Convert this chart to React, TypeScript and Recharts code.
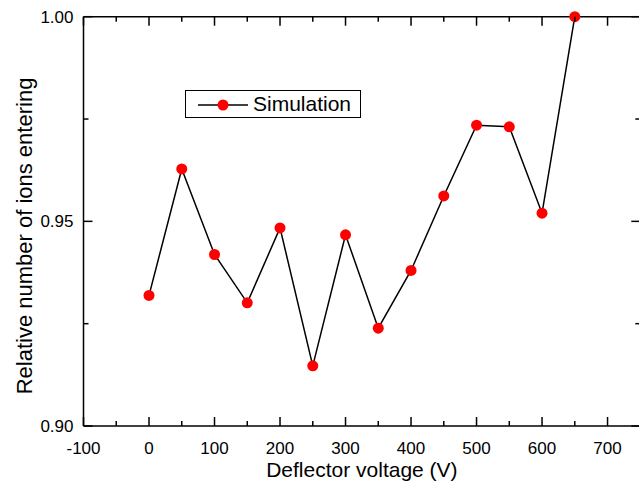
import React from "react";
import { LineChart, Line, XAxis, YAxis, Legend } from "recharts";

const voltages = [0, 50, 100, 150, 200, 250, 300, 350, 400, 450, 500, 550, 600, 650];
const ratios = [0.9319, 0.9628, 0.9419, 0.9301, 0.9484, 0.9147, 0.9467, 0.9239, 0.938, 0.9562, 0.9735, 0.9731, 0.952, 1.0];
const xTicks = [-100, -50, 0, 50, 100, 150, 200, 250, 300, 350, 400, 450, 500, 550, 600, 650, 700, 750];
const yTicks = [0.9, 0.925, 0.95, 0.975, 1.0];

const data = voltages.map((v, i) => ({ voltage: v, ratio: ratios[i] }));

const FONT = "'Liberation Sans', Arial, sans-serif";
const MAJOR = 9;
const MINOR = 5;

const isMajorX = (v: number) => Math.round(v) % 100 === 0;
const isMajorY = (v: number) => Math.round(v * 1000) % 50 === 0;

const BottomTick = (props: any) => {
  const { x, y, payload } = props;
  const major = isMajorX(payload.value);
  return (
    <g>
      <line x1={x} x2={x} y1={y} y2={y - (major ? MAJOR : MINOR)} stroke="#000" strokeWidth={1.5} />
      {major && payload.value !== 750 && (
        <text x={x} y={y + 28} textAnchor="middle" fontSize={17} fontFamily={FONT} fill="#000">
          {payload.value}
        </text>
      )}
    </g>
  );
};

const TopTick = (props: any) => {
  const { x, y, payload } = props;
  const major = isMajorX(payload.value);
  return <line x1={x} x2={x} y1={y} y2={y + (major ? MAJOR : MINOR)} stroke="#000" strokeWidth={1.5} />;
};

const LeftTick = (props: any) => {
  const { x, y, payload } = props;
  const major = isMajorY(payload.value);
  return (
    <g>
      <line x1={x} x2={x + (major ? MAJOR : MINOR)} y1={y} y2={y} stroke="#000" strokeWidth={1.5} />
      {major && (
        <text x={x - 10} y={y} dy="0.36em" textAnchor="end" fontSize={17} fontFamily={FONT} fill="#000">
          {payload.value.toFixed(2)}
        </text>
      )}
    </g>
  );
};

const RightTick = (props: any) => {
  const { x, y, payload } = props;
  const major = isMajorY(payload.value);
  return <line x1={x} x2={x - (major ? MAJOR : MINOR)} y1={y} y2={y} stroke="#000" strokeWidth={1.5} />;
};

const XTitle = (props: any) => {
  const { viewBox } = props;
  return (
    <text x={viewBox.x + viewBox.width / 2} y={477} textAnchor="middle" fontSize={21} fontFamily={FONT} fill="#000">
      Deflector voltage (V)
    </text>
  );
};

const YTitle = () => (
  <text x={32} y={236} transform="rotate(-90 32 236)" textAnchor="middle" fontSize={22} fontFamily={FONT} fill="#000">
    Relative number of ions entering
  </text>
);

const LegendBox = () => (
  <div
    style={{
      width: 174,
      height: 26,
      border: "1px solid #000",
      background: "#fff",
      display: "flex",
      alignItems: "center",
      fontFamily: FONT,
      fontSize: 21,
      color: "#000",
    }}
  >
    <svg width={66} height={26}>
      <line x1={12} x2={62} y1={14} y2={14} stroke="#000" strokeWidth={1.5} />
      <circle cx={37} cy={14} r={5.5} fill="#ff0000" />
    </svg>
    <span style={{ marginLeft: 1 }}>Simulation</span>
  </div>
);

export default function App() {
  return (
    <div style={{ position: "fixed", left: 0, top: 0, width: 639, height: 487, overflow: "hidden", background: "#fff" }}>
      <LineChart width={650} height={487} data={data} margin={{ top: 15.7, right: 8.7, bottom: 0, left: 0 }}>
        <XAxis
          dataKey="voltage"
          type="number"
          domain={[-100, 750]}
          ticks={xTicks}
          interval={0}
          height={61}
          tickSize={0}
          tickMargin={0}
          tickLine={false}
          tick={<BottomTick />}
          axisLine={{ stroke: "#000", strokeWidth: 1.5 }}
          label={<XTitle />}
        />
        <XAxis
          xAxisId="top"
          orientation="top"
          dataKey="voltage"
          type="number"
          domain={[-100, 750]}
          ticks={xTicks}
          interval={0}
          height={1}
          tickSize={0}
          tickMargin={0}
          tickLine={false}
          tick={<TopTick />}
          axisLine={{ stroke: "#000", strokeWidth: 1.5 }}
        />
        <YAxis
          type="number"
          domain={[0.9, 1.0]}
          ticks={yTicks}
          interval={0}
          width={83.5}
          tickSize={0}
          tickMargin={0}
          tickLine={false}
          tick={<LeftTick />}
          axisLine={{ stroke: "#000", strokeWidth: 1.5 }}
          label={<YTitle />}
        />
        <YAxis
          yAxisId="right"
          orientation="right"
          type="number"
          domain={[0.9, 1.0]}
          ticks={yTicks}
          interval={0}
          width={1}
          tickSize={0}
          tickMargin={0}
          tickLine={false}
          tick={<RightTick />}
          axisLine={{ stroke: "#000", strokeWidth: 1.5 }}
        />
        <Legend
          layout="horizontal"
          verticalAlign="middle"
          align="center"
          content={<LegendBox />}
          wrapperStyle={{ position: "absolute", left: 185, top: 90, width: 176, height: 28, bottom: "auto", right: "auto" }}
        />
        {/* invisible series so the mirrored top/right axes get rendered */}
        <Line
          xAxisId="top"
          yAxisId="right"
          dataKey="ratio"
          stroke="none"
          dot={false}
          activeDot={false}
          legendType="none"
          isAnimationActive={false}
        />
        <Line
          dataKey="ratio"
          stroke="#000"
          strokeWidth={1.5}
          dot={{ r: 5.5, fill: "#ff0000", stroke: "none" }}
          isAnimationActive={false}
        />
      </LineChart>
    </div>
  );
}
